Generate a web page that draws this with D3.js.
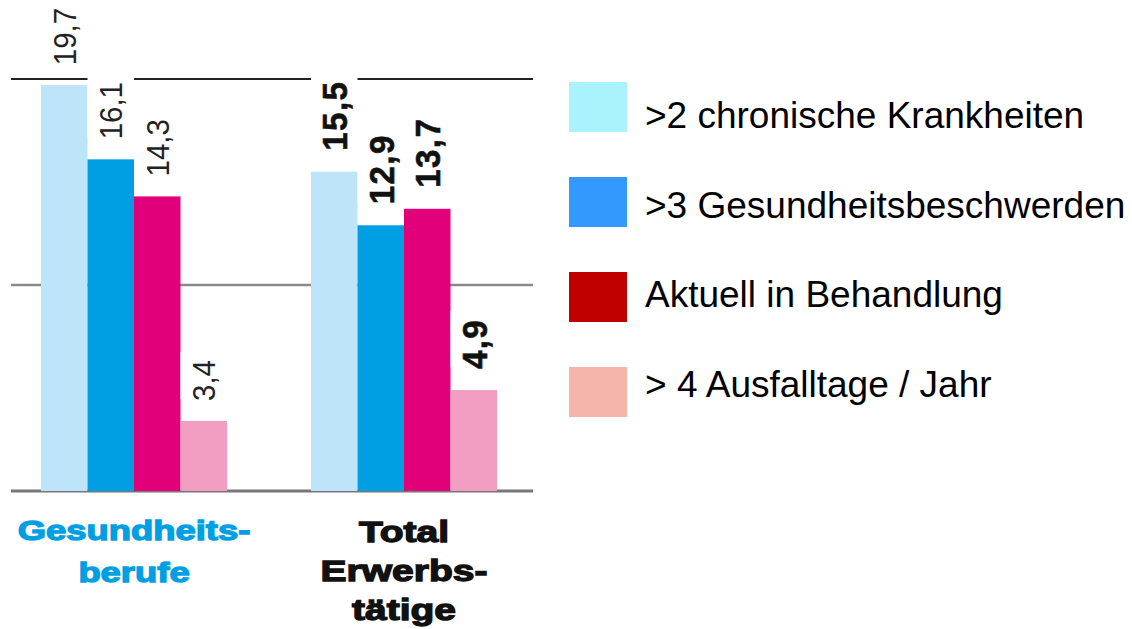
<!DOCTYPE html>
<html>
<head>
<meta charset="utf-8">
<script src="https://cdn.jsdelivr.net/npm/d3@7"></script>
<style>
  body { margin: 0; background: #fff; }
  svg { display: block; font-family: "Liberation Sans", Arial, sans-serif; }
</style>
</head>
<body>
<svg id="mySvg"></svg>
<script>
const width = 1132;
const height = 629;

// data
const categories = ["Gesundheitsberufe", "Total Erwerbstätige"];
const categoryLines = [["Gesundheits-", "berufe"], ["Total", "Erwerbs-", "tätige"]];
const series = [">2 chronische Krankheiten", ">3 Gesundheitsbeschwerden", "Aktuell in Behandlung", "> 4 Ausfalltage / Jahr"];
const valuesGesundheitsberufe = [19.7, 16.1, 14.3, 3.4];
const valuesTotal = [15.5, 12.9, 13.7, 4.9];
const gridValues = [0, 10, 20];

// styles
const barColors = ["#bde4f8", "#009fe3", "#e2007a", "#f19ec2"];
const legendColors = ["#aaf3fd", "#3399ff", "#c00000", "#f5b5ab"];
const categoryColors = ["#009fe3", "#111111"];
const labelBold = [false, true];

const rows = categories.map((c, i) => ({
  category: c,
  idx: i,
  values: [valuesGesundheitsberufe, valuesTotal][i].map((v, j) => ({ series: series[j], j, value: v }))
}));

const svg = d3.select("#mySvg").attr("width", width).attr("height", height);

const x0 = d3.scaleBand().domain(categories).range([41, 497]).paddingInner(84 / 270).paddingOuter(0);
const x1 = d3.scaleBand().domain(series).range([0, x0.bandwidth()]).padding(0);
const y = d3.scaleLinear().domain([0, 20]).range([491, 79]);

const locale = d3.formatLocale({ decimal: ",", thousands: ".", grouping: [3], currency: ["", ""] });
const fmt = locale.format(".1f");

// gridlines
const gridStyle = { 0: ["#777", 3], 10: ["#8a8a8a", 2.5], 20: ["#222", 2] };
svg.append("g")
  .selectAll("line")
  .data(gridValues)
  .join("line")
  .attr("x1", 11)
  .attr("x2", 533)
  .attr("y1", d => y(d))
  .attr("y2", d => y(d))
  .attr("stroke", d => gridStyle[d][0])
  .attr("stroke-width", d => gridStyle[d][1]);

const groups = svg.append("g")
  .selectAll("g")
  .data(rows)
  .join("g")
  .attr("transform", d => `translate(${x0(d.category)},0)`);

// bars
groups.selectAll("rect.bar")
  .data(d => d.values)
  .join("rect")
  .attr("class", "bar")
  .attr("x", d => x1(d.series))
  .attr("y", d => y(d.value))
  .attr("width", x1.bandwidth())
  .attr("height", d => y(0) - y(d.value))
  .attr("fill", d => barColors[d.j]);

// value labels, rotated
const fontReg = 32, fontBold = 36;
groups.each(function (row) {
  const g = d3.select(this);
  const bold = labelBold[row.idx];
  const fs = bold ? fontBold : fontReg;
  const gap = bold ? 21 : 20;
  row.values.forEach(d => {
    const cx = x1(d.series) + x1.bandwidth() / 2;
    const yEnd = y(d.value) - gap;
    const t = g.append("text")
      .attr("transform", `translate(${cx + fs * 0.36},${yEnd}) rotate(-90) scale(0.92,1)`)
      .attr("font-size", fs)
      .attr("font-weight", bold ? "bold" : "normal")
      .attr("letter-spacing", bold ? 1.5 : 0)
      .attr("fill", bold ? "#111" : "#222")
      .attr("stroke", bold ? "#111" : "none")
      .attr("stroke-width", 0.6)
      .text(fmt(d.value));
    const len = t.node().getComputedTextLength() * 0.92;
    // white backing behind label (breaks gridline)
    g.insert("rect", "text")
      .attr("x", x1(d.series))
      .attr("width", x1.bandwidth())
      .attr("y", yEnd - len - 8)
      .attr("height", len + 6)
      .attr("fill", "#fff");
  });
});

// category labels
const catSize = [28, 30];
const catLead = [42, 39];
groups.each(function (row) {
  const g = d3.select(this);
  const cx = x0.bandwidth() / 2;
  const lbl = g.append("g")
    .attr("transform", `translate(${cx},${540 + (row.idx ? 2 : 0)}) scale(1.3,1)`);
  lbl.selectAll("text")
    .data(categoryLines[row.idx])
    .join("text")
    .attr("x", 0)
    .attr("y", (d, i) => i * catLead[row.idx])
    .attr("text-anchor", "middle")
    .attr("font-size", catSize[row.idx])
    .attr("font-weight", "bold")
    .attr("fill", categoryColors[row.idx])
    .attr("stroke", categoryColors[row.idx])
    .attr("stroke-width", 1.3)
    .text(d => d);
});

// legend
const legend = svg.append("g")
  .selectAll("g")
  .data(series)
  .join("g");

legend.append("rect")
  .attr("x", 569)
  .attr("y", (d, i) => 82 + i * 95)
  .attr("width", 58)
  .attr("height", 50)
  .attr("fill", (d, i) => legendColors[i]);

legend.append("text")
  .attr("x", 645)
  .attr("y", (d, i) => 128 + i * 89.7)
  .attr("font-size", 37)
  .attr("fill", "#000")
  .text(d => d);
</script>
</body>
</html>
